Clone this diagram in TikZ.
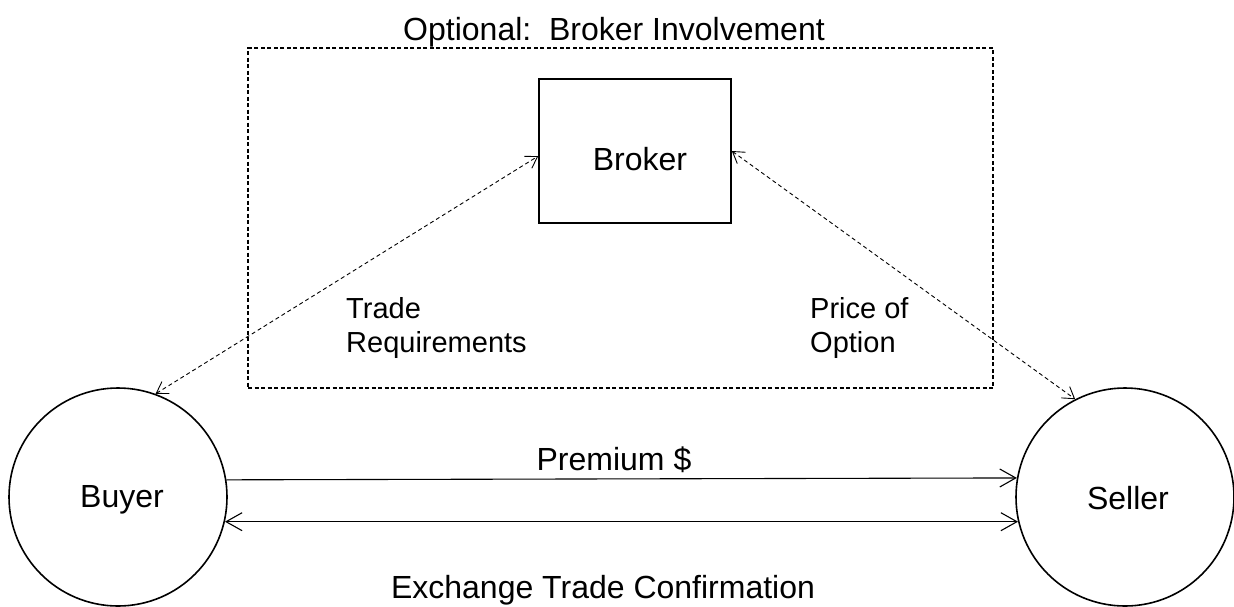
\documentclass[tikz,border=0pt]{standalone}
\usepackage{fontspec}
\setmainfont{Liberation Sans}
\usetikzlibrary{arrows.meta,calc}
\begin{document}
\begin{tikzpicture}[x=1pt,y=-1pt,
  bigfont/.style={font=\fontsize{32}{36}\selectfont},
  party/.style={draw, line width=1.6pt, circle, minimum size=218pt, inner sep=0pt},
  agent/.style={draw, line width=1.6pt, rectangle, minimum width=192pt, minimum height=144pt, inner sep=0pt},
  lbl/.style={bigfont, inner sep=0pt},
  note/.style={font=\fontsize{29}{34}\selectfont, inner sep=0pt, align=left, anchor=base west},
  flow/.style={line width=1.1pt, -{Straight Barb[length=16pt,width=18pt,line width=1.1pt]}},
  bothflow/.style={line width=1.1pt, {Straight Barb[length=16pt,width=18pt,line width=1.1pt]}-{Straight Barb[length=16pt,width=18pt,line width=1.1pt]}},
  optflow/.style={line width=0.9pt, dash pattern=on 4pt off 3pt, {Straight Barb[length=11pt,width=14pt,line width=0.9pt]}-{Straight Barb[length=11pt,width=14pt,line width=0.9pt]}}
]
\useasboundingbox (0,0) rectangle (1234,606);

% optional broker region
\node[draw, line width=1.1pt, dash pattern=on 4pt off 2.5pt, minimum width=745pt, minimum height=340pt, inner sep=0pt] (region) at (620.5,218) {};
\node[lbl, anchor=base] (title) at (614,40) {Optional:\ \ Broker Involvement};

% parties
\node[agent] (broker) at (635,151) {};
\node[party] (buyer) at (118,497) {};
\node[party] (seller) at (1125,497) {};
\node[lbl, anchor=base] (brokername) at (640,170) {Broker};
\node[lbl, anchor=base] (buyername) at (122,507) {Buyer};
\node[lbl, anchor=base] (sellername) at (1128,509) {Seller};

% exchange-traded flows
\draw[flow] (buyer.9.5) -- (seller.170.5);
\draw[bothflow] (buyer.-13.3) -- (seller.193.3);
\node[lbl, anchor=base] (prem) at (614,470) {Premium \$};
\node[lbl, anchor=base] (conf) at (603,598) {Exchange Trade Confirmation};

% broker-mediated flows (base anchor sits on the last line)
\draw[optflow] (buyer.70) -- (broker.183.6);
\draw[optflow] (broker.east) -- (seller.117);
\node[note] (req) at (346,352) {Trade\\Requirements};
\node[note] (price) at (810,352) {Price of\\Option};
\end{tikzpicture}
\end{document}
